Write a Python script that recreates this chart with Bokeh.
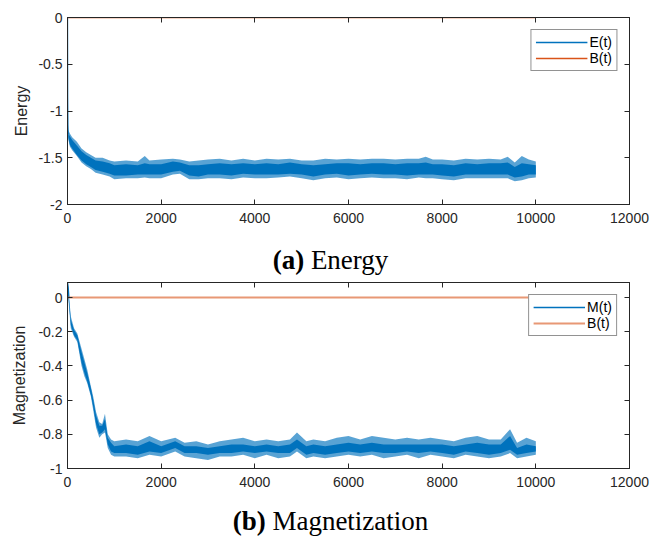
from bokeh.plotting import figure
from bokeh.models import Range1d, FixedTicker, LinearAxis, CustomJSTickFormatter, Div
from bokeh.layouts import column
from bokeh.embed import file_html
from bokeh.resources import INLINE

# ---------------- data ----------------
x_ticks = [0, 2000, 4000, 6000, 8000, 10000, 12000]
e_ticks = [-2, -1.5, -1, -0.5, 0]
m_ticks = [-1, -0.8, -0.6, -0.4, -0.2, 0]

b_t = [0, 10000]
b_val = [0, 0]

e_init_t = [0, 3, 8, 15]
e_init = [0.0, -0.85, -1.15, -1.25]

e_env_t = [15, 50, 100, 200, 300, 400, 500, 600, 750, 900,
           1000, 1250, 1500, 1650, 1750, 2000, 2250, 2400, 2600, 2800,
           3000, 3250, 3500, 3750, 4000, 4250, 4500, 4750, 5000, 5250,
           5500, 5750, 6000, 6250, 6500, 6750, 7000, 7250, 7500, 7650,
           7800, 8000, 8250, 8500, 8750, 9000, 9250, 9400, 9550, 9700,
           9850, 10000]
# outer extent of the noise (spikes)
e_hi = [-1.20, -1.24, -1.28, -1.33, -1.40, -1.44, -1.47, -1.50, -1.50, -1.53,
        -1.54, -1.53, -1.54, -1.48, -1.53, -1.52, -1.51, -1.52, -1.54, -1.53,
        -1.52, -1.51, -1.53, -1.51, -1.53, -1.51, -1.52, -1.51, -1.53, -1.53,
        -1.51, -1.52, -1.51, -1.52, -1.51, -1.51, -1.52, -1.51, -1.51, -1.49,
        -1.52, -1.52, -1.53, -1.51, -1.52, -1.51, -1.52, -1.49, -1.55, -1.48,
        -1.52, -1.54]
e_lo = [-1.30, -1.38, -1.42, -1.48, -1.55, -1.59, -1.62, -1.66, -1.68, -1.70,
        -1.73, -1.72, -1.72, -1.71, -1.72, -1.72, -1.68, -1.67, -1.73, -1.73,
        -1.72, -1.72, -1.73, -1.71, -1.72, -1.72, -1.71, -1.70, -1.72, -1.74,
        -1.72, -1.71, -1.73, -1.72, -1.71, -1.72, -1.72, -1.73, -1.71, -1.72,
        -1.72, -1.73, -1.74, -1.72, -1.72, -1.72, -1.72, -1.72, -1.75, -1.74,
        -1.72, -1.71]
# dense core of the noise
e_core_hi = [-1.24, -1.27, -1.31, -1.37, -1.43, -1.47, -1.50, -1.53, -1.54, -1.56,
             -1.58, -1.57, -1.58, -1.56, -1.57, -1.57, -1.54, -1.55, -1.58, -1.58,
             -1.57, -1.56, -1.57, -1.56, -1.57, -1.56, -1.57, -1.55, -1.57, -1.58,
             -1.57, -1.56, -1.56, -1.57, -1.56, -1.56, -1.57, -1.56, -1.56, -1.55,
             -1.57, -1.57, -1.58, -1.56, -1.57, -1.56, -1.56, -1.55, -1.60, -1.56,
             -1.57, -1.58]
e_core_lo = [-1.28, -1.36, -1.40, -1.47, -1.53, -1.57, -1.60, -1.63, -1.65, -1.67,
             -1.69, -1.69, -1.68, -1.68, -1.68, -1.68, -1.65, -1.64, -1.69, -1.70,
             -1.68, -1.68, -1.69, -1.67, -1.68, -1.68, -1.68, -1.67, -1.68, -1.70,
             -1.68, -1.67, -1.69, -1.68, -1.67, -1.68, -1.68, -1.69, -1.68, -1.68,
             -1.68, -1.69, -1.70, -1.68, -1.68, -1.68, -1.68, -1.68, -1.71, -1.70,
             -1.68, -1.68]

m_init_t = [0, 15, 30]
m_init = [0.09, 0.06, 0.0]

m_env_t = [0, 30, 70, 140, 210, 300, 360, 420, 500, 550,
           610, 680, 740, 800, 860, 930, 1000, 1250, 1500, 1750,
           2000, 2300, 2500, 2750, 3000, 3250, 3500, 3750, 4000, 4250,
           4500, 4750, 4900, 5100, 5250, 5500, 5750, 6000, 6250, 6500,
           6750, 7000, 7250, 7500, 7750, 8000, 8250, 8500, 8750, 9000,
           9250, 9450, 9600, 9800, 10000]
m_hi = [0.09, 0.02, -0.11, -0.18, -0.21, -0.30, -0.36, -0.42, -0.52, -0.58,
        -0.67, -0.73, -0.74, -0.68, -0.80, -0.83, -0.84, -0.83, -0.84, -0.81,
        -0.84, -0.82, -0.85, -0.84, -0.86, -0.84, -0.83, -0.82, -0.84, -0.83,
        -0.84, -0.83, -0.79, -0.84, -0.83, -0.84, -0.82, -0.81, -0.83, -0.81,
        -0.82, -0.83, -0.82, -0.83, -0.82, -0.83, -0.84, -0.82, -0.81, -0.83,
        -0.83, -0.77, -0.85, -0.82, -0.84]
m_lo = [0.06, -0.05, -0.18, -0.23, -0.26, -0.40, -0.46, -0.50, -0.58, -0.66,
        -0.76, -0.82, -0.80, -0.79, -0.88, -0.92, -0.93, -0.93, -0.94, -0.92,
        -0.93, -0.90, -0.93, -0.94, -0.95, -0.93, -0.93, -0.92, -0.94, -0.92,
        -0.94, -0.93, -0.90, -0.94, -0.93, -0.94, -0.93, -0.92, -0.93, -0.92,
        -0.94, -0.93, -0.92, -0.94, -0.92, -0.93, -0.94, -0.92, -0.93, -0.94,
        -0.93, -0.91, -0.94, -0.93, -0.92]
m_core_hi = [0.08, 0.00, -0.13, -0.19, -0.22, -0.32, -0.38, -0.44, -0.53, -0.60,
             -0.69, -0.75, -0.75, -0.71, -0.82, -0.85, -0.87, -0.86, -0.87, -0.84,
             -0.87, -0.84, -0.87, -0.87, -0.88, -0.87, -0.86, -0.86, -0.87, -0.86,
             -0.87, -0.86, -0.83, -0.87, -0.86, -0.87, -0.86, -0.85, -0.86, -0.85,
             -0.86, -0.86, -0.86, -0.86, -0.86, -0.86, -0.87, -0.86, -0.85, -0.86,
             -0.86, -0.81, -0.88, -0.86, -0.87]
m_core_lo = [0.07, -0.03, -0.16, -0.22, -0.25, -0.38, -0.44, -0.49, -0.57, -0.64,
             -0.74, -0.80, -0.79, -0.77, -0.86, -0.90, -0.91, -0.91, -0.92, -0.90,
             -0.91, -0.88, -0.91, -0.91, -0.92, -0.91, -0.91, -0.90, -0.91, -0.90,
             -0.91, -0.91, -0.88, -0.92, -0.91, -0.92, -0.91, -0.90, -0.91, -0.90,
             -0.91, -0.91, -0.90, -0.91, -0.90, -0.91, -0.92, -0.90, -0.91, -0.92,
             -0.91, -0.89, -0.92, -0.91, -0.90]

BLUE = "#0072BD"
ORANGE = "#D95319"
AX = "#262626"
SANS = "Liberation Sans"


def style(p, ylabel, yticks, label_standoff):
    fmt = CustomJSTickFormatter(code="return String(tick)")
    for ax in (p.xaxis[0], p.yaxis[0]):
        ax.formatter = fmt
        ax.major_tick_in = 5
        ax.major_tick_out = 0
        ax.minor_tick_line_color = None
        ax.axis_line_color = AX
        ax.major_tick_line_color = AX
        ax.major_label_text_font = SANS
        ax.major_label_text_font_size = "14px"
        ax.major_label_text_color = AX
    p.xaxis[0].ticker = FixedTicker(ticks=x_ticks)
    p.yaxis[0].ticker = FixedTicker(ticks=yticks)
    p.xaxis[0].major_label_standoff = 8
    p.yaxis[0].major_label_standoff = 5
    p.yaxis[0].axis_label = ylabel
    p.yaxis[0].axis_label_text_font = SANS
    p.yaxis[0].axis_label_text_font_size = "16px"
    p.yaxis[0].axis_label_text_font_style = "normal"
    p.yaxis[0].axis_label_text_color = AX
    p.yaxis[0].axis_label_standoff = label_standoff
    # mirrored ticks (top / right), no labels
    top = LinearAxis(ticker=FixedTicker(ticks=x_ticks), major_tick_in=5, major_tick_out=0,
                     minor_tick_line_color=None, major_label_text_font_size="0px",
                     major_label_standoff=0, axis_line_color=AX, major_tick_line_color=AX,
                     formatter=CustomJSTickFormatter(code="return ''"))
    right = LinearAxis(ticker=FixedTicker(ticks=yticks), major_tick_in=5, major_tick_out=0,
                       minor_tick_line_color=None, major_label_text_font_size="0px",
                       major_label_standoff=0, axis_line_color=AX, major_tick_line_color=AX,
                       formatter=CustomJSTickFormatter(code="return ''"))
    p.add_layout(top, "above")
    p.add_layout(right, "right")
    p.xgrid.grid_line_color = None
    p.ygrid.grid_line_color = None
    p.outline_line_color = AX
    p.outline_line_width = 1
    p.background_fill_color = "white"
    p.border_fill_color = "white"


def style_legend(p):
    lg = p.legend[0]
    lg.location = "top_right"
    lg.margin = 12
    lg.padding = 4
    lg.spacing = 0
    lg.label_standoff = 2
    lg.glyph_width = 52
    lg.glyph_height = 16
    lg.label_height = 16
    lg.label_text_font = SANS
    lg.label_text_font_size = "14px"
    lg.label_text_color = "#000000"
    lg.border_line_color = AX
    lg.border_line_width = 1
    lg.background_fill_alpha = 1


# ---------------- top panel: energy ----------------
p1 = figure(width=655, height=245, output_backend="svg", toolbar_location=None,
            x_range=Range1d(0, 12000), y_range=Range1d(-2, 0),
            min_border_left=67, min_border_right=22, min_border_top=17, min_border_bottom=41)
p1.varea(x=e_env_t, y1=e_lo, y2=e_hi, fill_color=BLUE, fill_alpha=0.65)
p1.varea(x=e_env_t, y1=e_core_lo, y2=e_core_hi, fill_color=BLUE, fill_alpha=1)
p1.line(e_init_t, e_init, line_color=BLUE, line_width=1.3, legend_label="E(t)")
p1.line(b_t, b_val, line_color=ORANGE, line_width=1.5, legend_label="B(t)")
style(p1, "Energy", e_ticks, 5)
style_legend(p1)

cap_style = {"font-family": "Liberation Serif", "font-size": "27px", "line-height": "30px",
             "color": "#000000", "text-align": "center", "width": "655px", "display": "block"}
d1 = Div(text='<div style="width:649px;padding-left:6px;text-align:center"><b>(a)</b> Energy</div>',
         width=655, height=30, margin=(0, 0, 0, 0), styles=cap_style)

# ---------------- bottom panel: magnetization ----------------
p2 = figure(width=655, height=231, output_backend="svg", toolbar_location=None,
            x_range=Range1d(0, 12000), y_range=Range1d(-1, 0.088),
            min_border_left=63, min_border_right=26, min_border_top=7, min_border_bottom=38)
p2.varea(x=m_env_t, y1=m_lo, y2=m_hi, fill_color=BLUE, fill_alpha=0.65)
p2.varea(x=m_env_t, y1=m_core_lo, y2=m_core_hi, fill_color=BLUE, fill_alpha=1)
p2.line(m_init_t, m_init, line_color=BLUE, line_width=1.3, legend_label="M(t)")
p2.line(b_t, b_val, line_color=ORANGE, line_alpha=0.6, line_width=2, legend_label="B(t)")
style(p2, "Magnetization", m_ticks, 7)
style_legend(p2)

d2 = Div(text='<div style="width:649px;padding-left:6px;text-align:center"><b>(b)</b> Magnetization</div>',
         width=655, height=30, margin=(0, 0, 0, 0), styles=cap_style)

layout = column(p1, d1, p2, d2, spacing=0)
open("out.html", "w").write(file_html(layout, INLINE))
